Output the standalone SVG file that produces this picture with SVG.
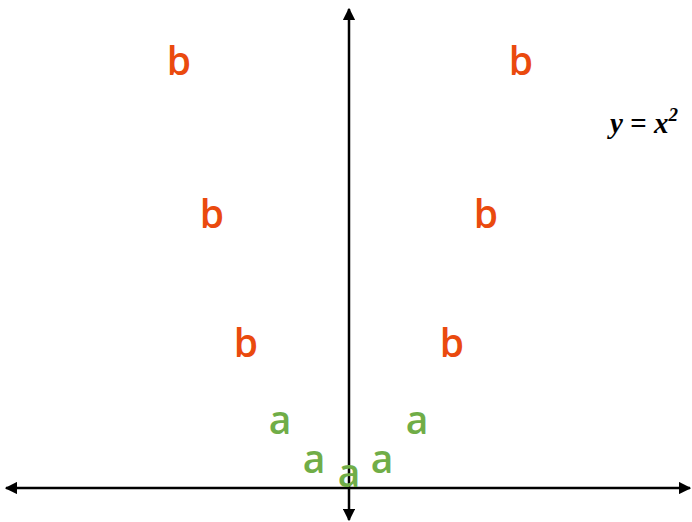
<svg xmlns="http://www.w3.org/2000/svg" width="692" height="522" viewBox="0 0 692 522">
<style>
.ax{stroke:#000;stroke-width:2.5;fill:none}
.b{fill:#EA4A0E;font-family:"Open Sans","Liberation Sans",sans-serif;font-size:39px;font-weight:600;text-anchor:middle}
.a{fill:#70AD47;font-family:"Open Sans","Liberation Sans",sans-serif;font-size:39px;font-weight:600;text-anchor:middle}
.eq{font-family:"Liberation Serif",serif;font-style:italic;font-weight:bold;font-size:29px}
</style>
<defs>
<marker id="ah" viewBox="0 0 10 10" refX="9" refY="5" markerWidth="5" markerHeight="5" orient="auto" markerUnits="strokeWidth">
<path d="M0,0 L10,5 L0,10 z" fill="#000"/>
</marker>
</defs>
<g id="connectors">
<line class="ax" x1="349" y1="488" x2="349" y2="9" marker-end="url(#ah)"/>
<line class="ax" x1="349" y1="488" x2="349" y2="520" marker-end="url(#ah)"/>
<line class="ax" x1="349" y1="488" x2="6" y2="488" marker-end="url(#ah)"/>
<line class="ax" x1="349" y1="488" x2="690" y2="488" marker-end="url(#ah)"/>
</g>
<g id="b1"><text class="b" x="179" y="75">b</text></g>
<g id="b2"><text class="b" x="521" y="75">b</text></g>
<g id="b3"><text class="b" x="212" y="228">b</text></g>
<g id="b4"><text class="b" x="486" y="228">b</text></g>
<g id="b5"><text class="b" x="246" y="357">b</text></g>
<g id="b6"><text class="b" x="452" y="357">b</text></g>
<g id="a1"><text class="a" x="280" y="434">a</text></g>
<g id="a2"><text class="a" x="417" y="434">a</text></g>
<g id="a3"><text class="a" x="314" y="473">a</text></g>
<g id="a4"><text class="a" x="349" y="487">a</text></g>
<g id="a5"><text class="a" x="382" y="473">a</text></g>
<g id="eq"><text class="eq" x="610" y="133">y = x<tspan font-size="19" dy="-12">2</tspan></text></g>
</svg>
